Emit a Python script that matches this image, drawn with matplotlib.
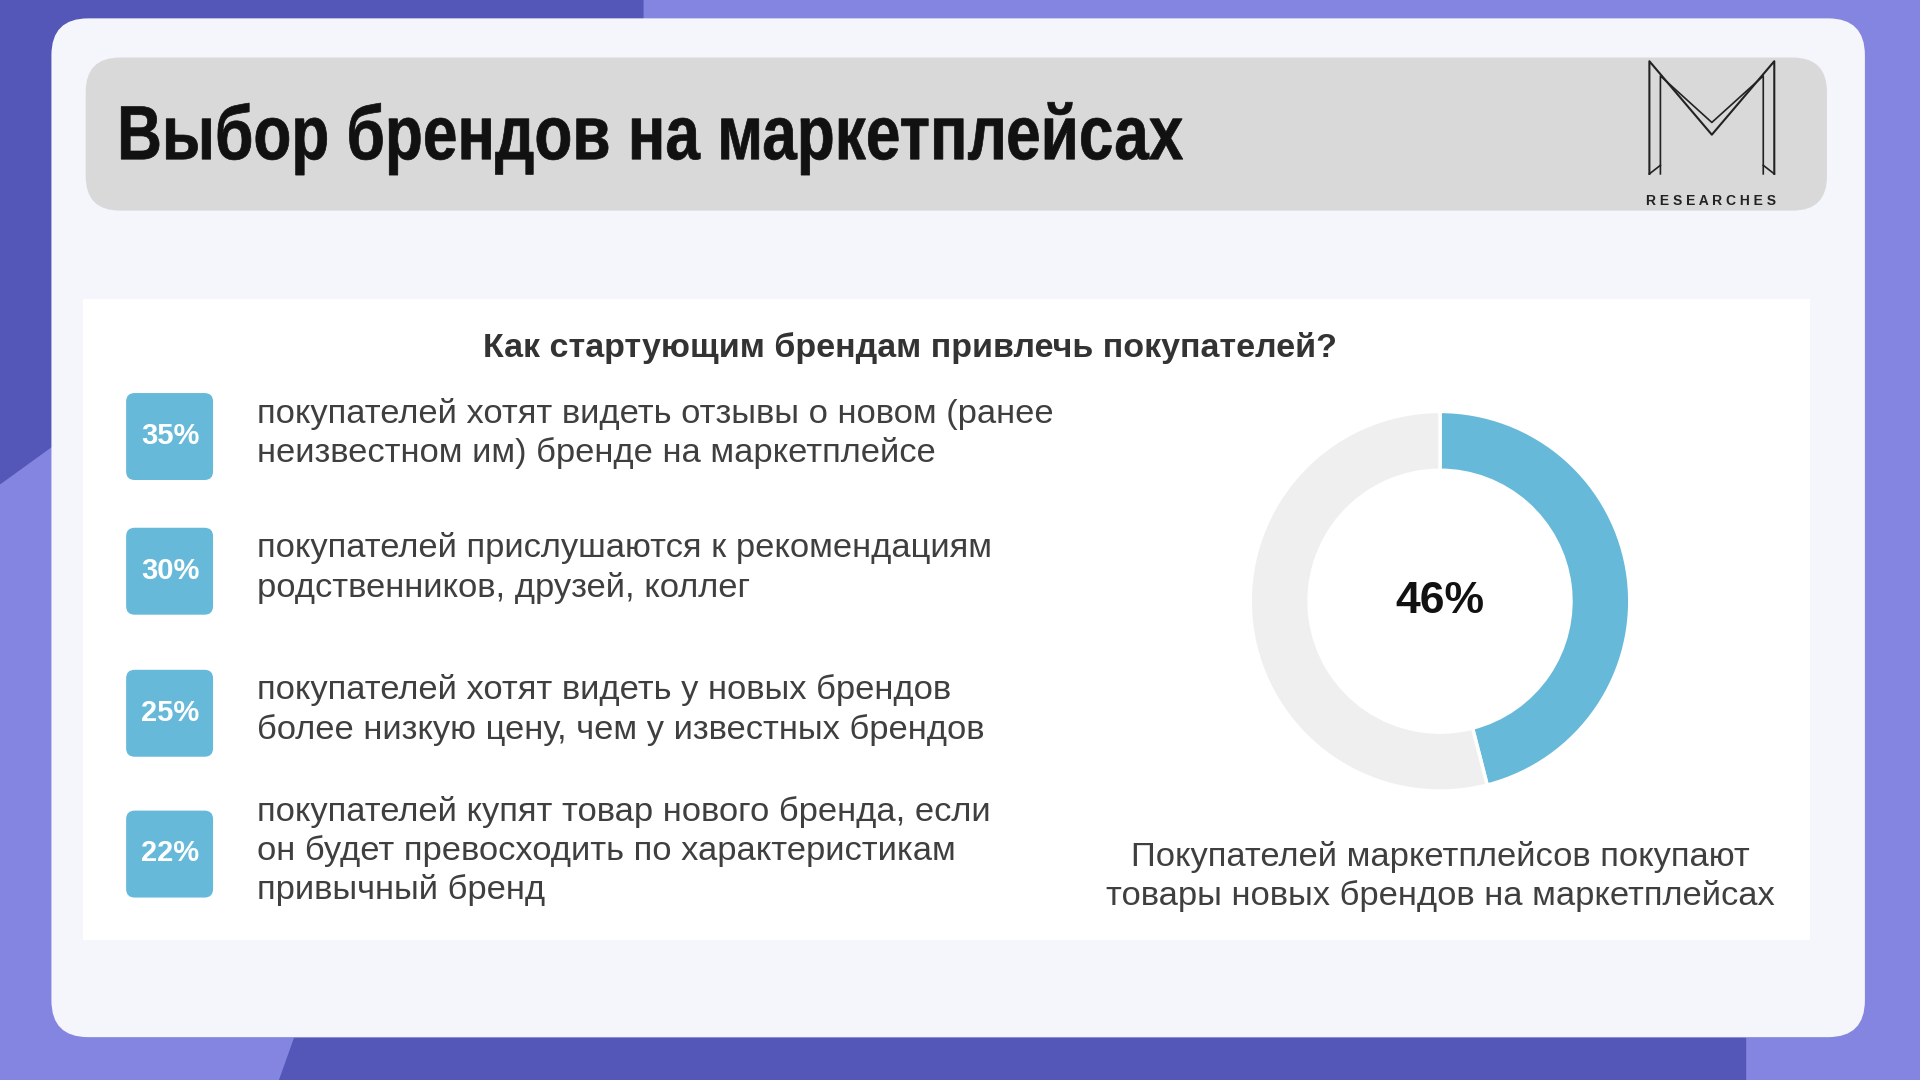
import matplotlib.pyplot as plt
from matplotlib.patches import FancyBboxPatch, Polygon, Rectangle, PathPatch
from matplotlib.textpath import TextPath
from matplotlib.font_manager import FontProperties
from matplotlib.transforms import Affine2D

title = "Выбор брендов на маркетплейсах"
subtitle = "Как стартующим брендам привлечь покупателей?"
badges = ["35%", "30%", "25%", "22%"]
items = [
    "покупателей хотят видеть отзывы о новом (ранее\nнеизвестном им) бренде на маркетплейсе",
    "покупателей прислушаются к рекомендациям\nродственников, друзей, коллег",
    "покупателей хотят видеть у новых брендов\nболее низкую цену, чем у известных брендов",
    "покупателей купят товар нового бренда, если\nон будет превосходить по характеристикам\nпривычный бренд",
]
donut_value = 46
caption = "Покупателей маркетплейсов покупают\nтовары новых брендов на маркетплейсах"

blue = "#67b9d9"
text_col = "#3f3f3f"
plt.rcParams['font.family'] = ['Liberation Sans', 'DejaVu Sans']

W, H = 1568, 882
fig = plt.figure(figsize=(19.2, 10.8), dpi=100)
fig.patch.set_facecolor("#8485e0")
ax = fig.add_axes([0, 0, 1, 1])
ax.set_xlim(0, W)
ax.set_ylim(H, 0)
ax.axis("off")

# background shapes
ax.add_patch(Polygon([[0, 0], [525, 0], [525, 15], [0, 395]], color="#5457b8", zorder=0))
ax.add_patch(Polygon([[240, 848], [1425, 848], [1425, 882], [228, 882]], color="#5457b8", zorder=0))

# card
ax.add_patch(FancyBboxPatch((42, 15), 1481, 832, boxstyle="round,pad=0,rounding_size=30",
                            fc="#f5f6fb", ec="none", zorder=1))
ax.add_patch(FancyBboxPatch((70, 47), 1422, 125, boxstyle="round,pad=0,rounding_size=28",
                            fc="#d9d9d9", ec="none", zorder=2))

# condensed title: text path squeezed horizontally
tp = TextPath((0, 0), title, size=1, prop=FontProperties(family="Liberation Sans", weight="bold"))
ext = tp.get_extents()
sx = 867 / ext.width
sy = 45 / 0.72
tr = Affine2D().translate(-ext.x0, 0).scale(sx, -sy).translate(99, 130)
ax.add_patch(PathPatch(tr.transform_path(tp), fc="#111111", ec="#111111", lw=0.5, zorder=3))

# logo
ax.plot([1347, 1347, 1398, 1449, 1449], [142, 50, 110, 50, 142], color="#222222", lw=1.5, zorder=3)
ax.plot([1356, 1356, 1398, 1440, 1440], [142, 62, 100, 62, 142], color="#222222", lw=1.2, zorder=3)
ax.plot([1347, 1356], [142, 135], color="#222222", lw=1.2, zorder=3)
ax.plot([1449, 1440], [142, 135], color="#222222", lw=1.2, zorder=3)
ax.text(1397, 164, " ".join("RESEARCHES"), fontsize=10, ha="center", va="center",
        color="#222222", fontweight="bold", zorder=3)

# white panel
ax.add_patch(Rectangle((68, 244), 1410, 524, fc="white", ec="none", zorder=2))
ax.text(743, 284, subtitle, fontsize=24.5, fontweight="bold", ha="center", va="center",
        color="#333333", zorder=3)

ycs = [356, 466, 582, 697]
for yc, b, txt in zip(ycs, badges, items):
    ax.add_patch(FancyBboxPatch((103, yc - 35), 71, 71, boxstyle="round,pad=0,rounding_size=7",
                                fc=blue, ec="none", zorder=3))
    ax.text(139, yc, b, fontsize=21, fontweight="bold", color="white", ha="center",
            va="center", zorder=4)
    ax.text(210, yc - 2, txt, fontsize=24.8, color=text_col, ha="left", va="center",
            linespacing=1.3, zorder=4)

ax.text(1176, 716, caption, fontsize=24.8, color=text_col, ha="center", va="center",
        linespacing=1.3, zorder=4)

# donut
cx, cy, r = 1176, 491, 155
dax = fig.add_axes([(cx - r) / W, 1 - (cy + r) / H, 2 * r / W, 2 * r / H])
dax.pie([donut_value, 100 - donut_value], colors=[blue, "#efefef"], startangle=90,
        counterclock=False, radius=1,
        wedgeprops=dict(width=0.31, edgecolor="white", linewidth=2.5))
dax.set_xlim(-1, 1)
dax.set_ylim(-1, 1)
dax.set_aspect("equal")
dax.text(0, 0, f"{donut_value}%", fontsize=32, fontweight="bold", ha="center", va="center",
         color="#111111")

fig.savefig("out.png", dpi=100, facecolor=fig.get_facecolor())
